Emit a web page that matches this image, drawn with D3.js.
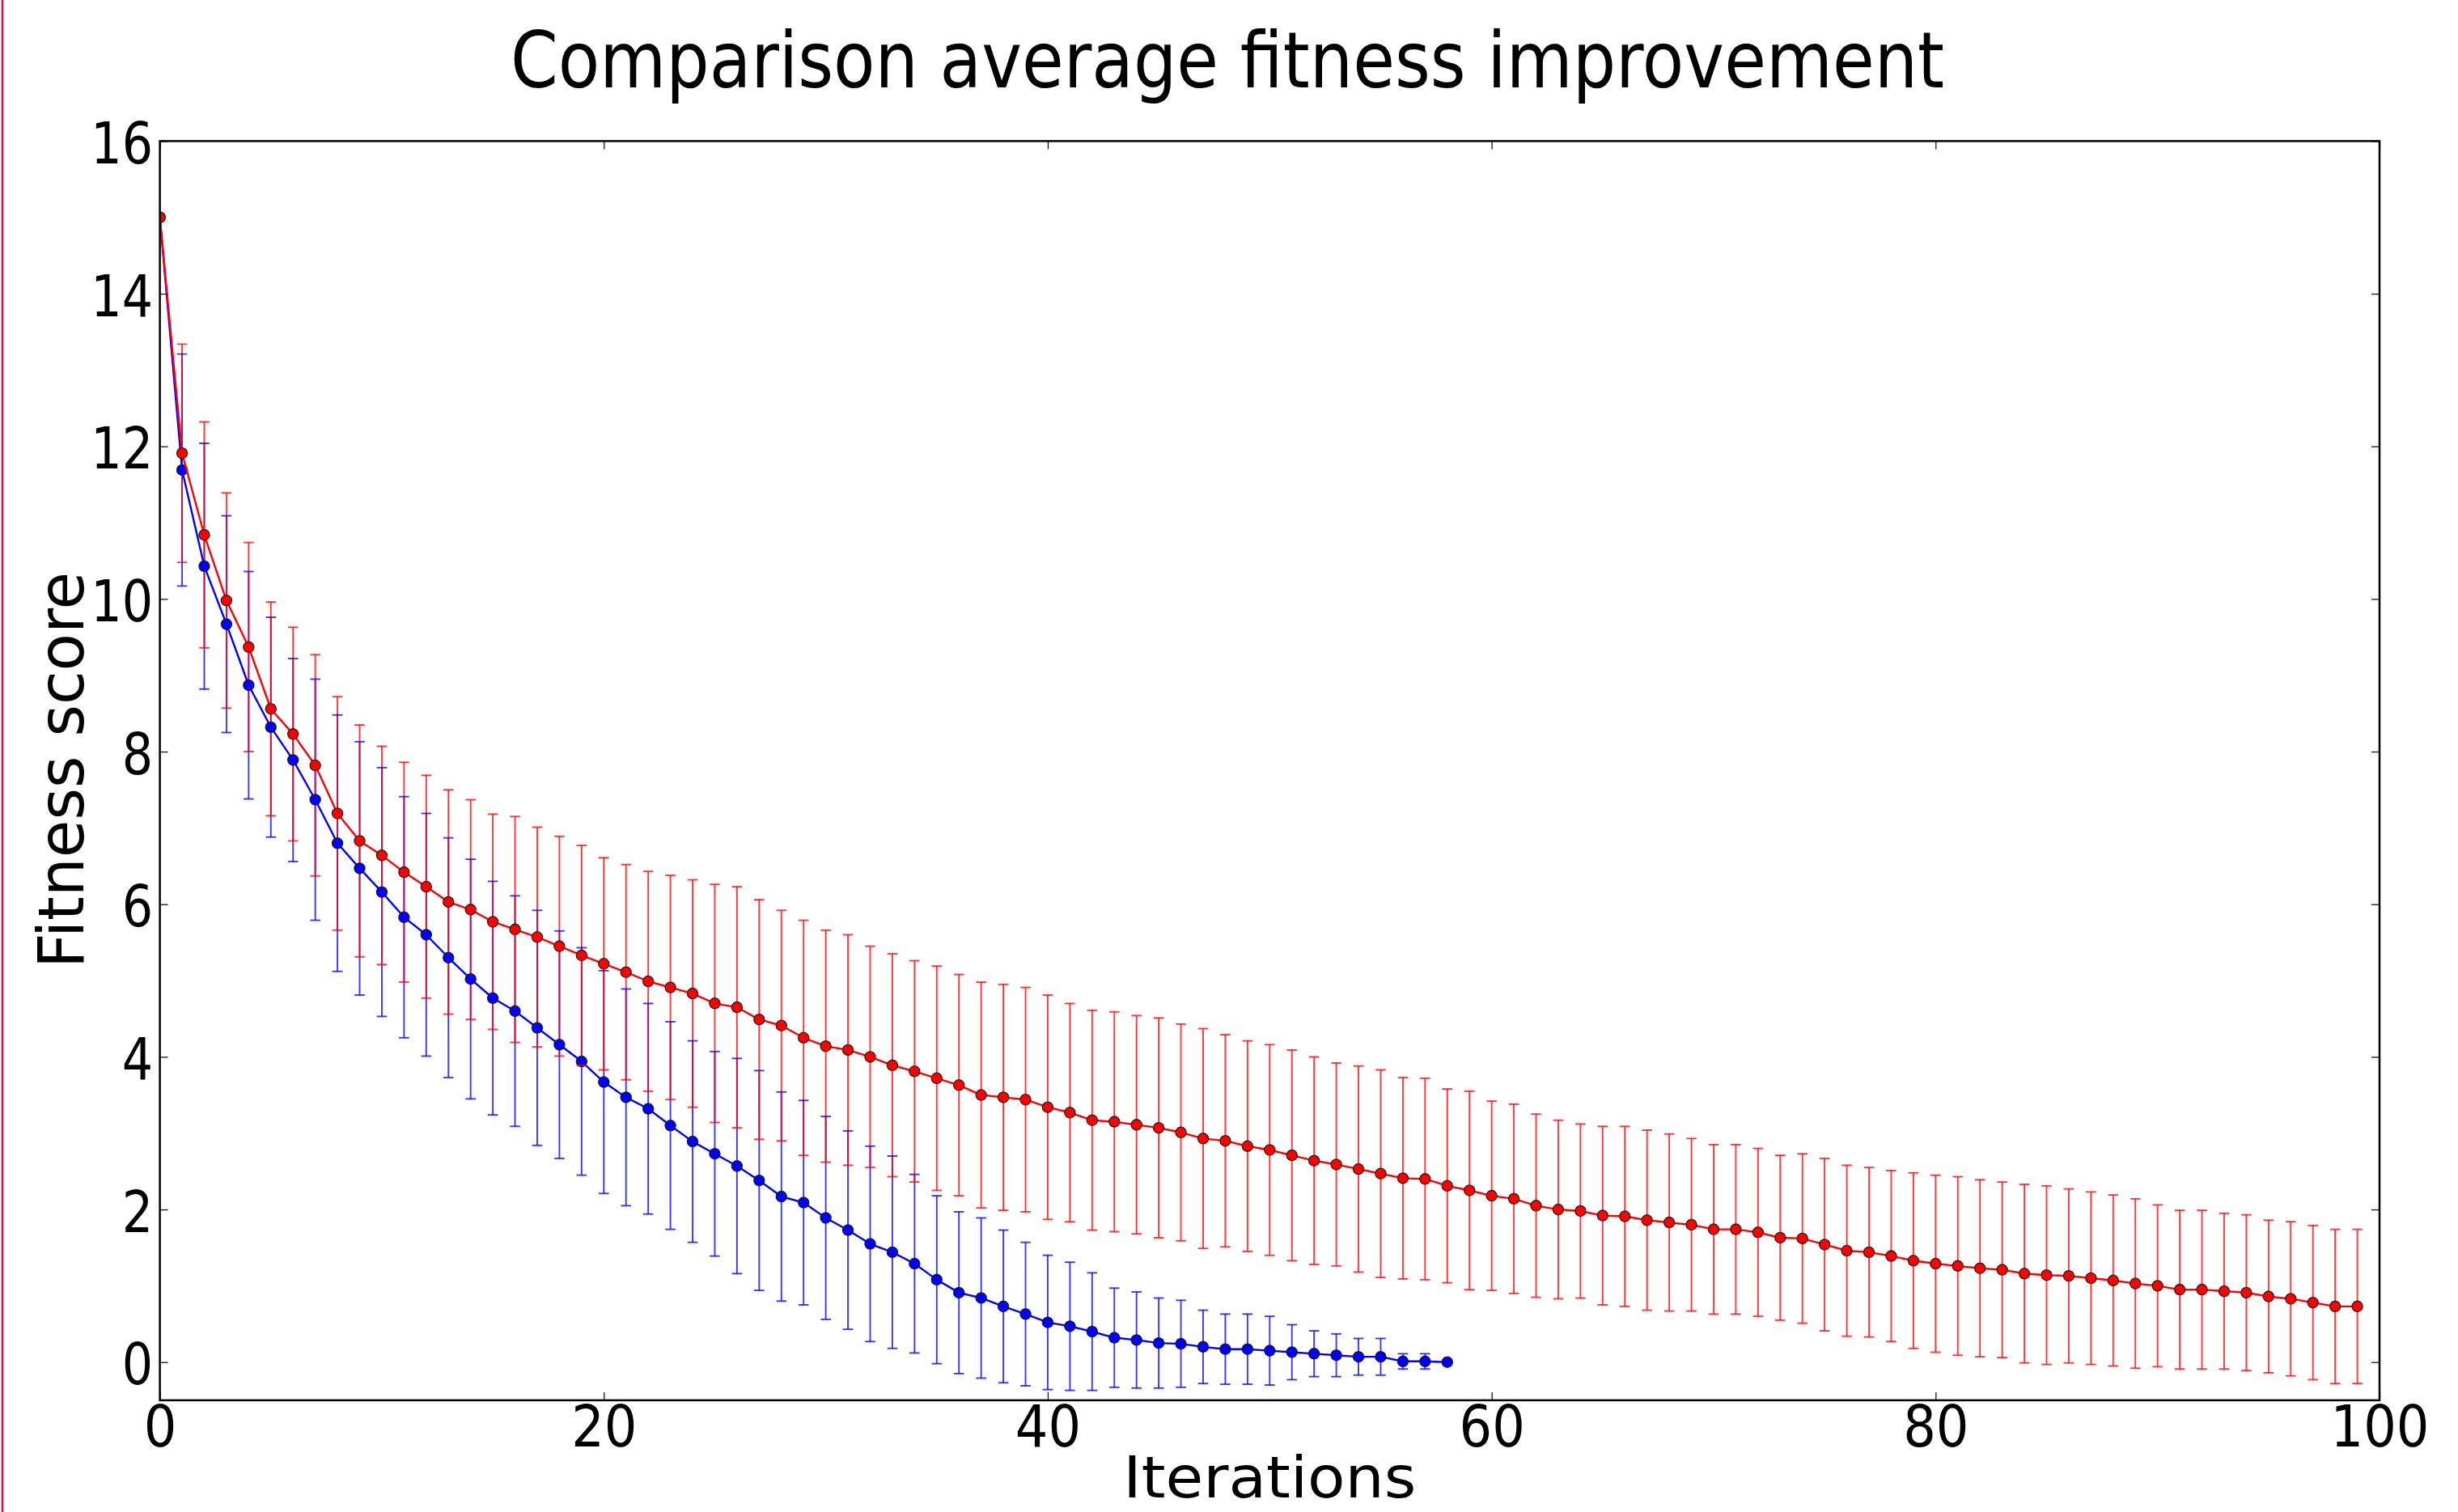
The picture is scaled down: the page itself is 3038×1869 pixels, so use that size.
<!DOCTYPE html>
<html>
<head>
<meta charset="utf-8">
<script src="https://cdn.jsdelivr.net/npm/d3@7"></script>
<style>
  html, body { margin: 0; padding: 0; background: #ffffff; }
  svg { display: block; }
</style>
</head>
<body>
<svg id="chart" width="3038" height="1869"></svg>
<script>
// ---------------- DATA ----------------
const titleText = "Comparison average fitness improvement";
const xLabelText = "Iterations";
const yLabelText = "Fitness score";

const xTicks = [0, 20, 40, 60, 80, 100];
const yTicks = [0, 2, 4, 6, 8, 10, 12, 14, 16];

// red series: iterations 0..99
const redMean = [
  15.0, 11.91, 10.84, 9.98, 9.37, 8.56, 8.23, 7.82, 7.19, 6.83,
  6.64, 6.42, 6.23, 6.03, 5.93, 5.77, 5.67, 5.57, 5.45, 5.33,
  5.22, 5.11, 4.99, 4.91, 4.83, 4.70, 4.65, 4.49, 4.41, 4.25,
  4.14, 4.09, 4.00, 3.89, 3.81, 3.72, 3.63, 3.50, 3.47, 3.44,
  3.34, 3.27, 3.17, 3.15, 3.11, 3.07, 3.01, 2.93, 2.90, 2.83,
  2.78, 2.71, 2.64, 2.59, 2.53, 2.47, 2.41, 2.40, 2.31, 2.25,
  2.18, 2.14, 2.05, 2.00, 1.98, 1.92, 1.91, 1.86, 1.83, 1.80,
  1.74, 1.74, 1.70, 1.63, 1.62, 1.54, 1.46, 1.44, 1.39, 1.33,
  1.29, 1.26, 1.23, 1.21, 1.16, 1.14, 1.13, 1.10, 1.07, 1.03,
  1.00, 0.95, 0.95, 0.93, 0.91, 0.86, 0.83, 0.78, 0.73, 0.73
];
const redErr = [
  0.00, 1.43, 1.48, 1.41, 1.37, 1.40, 1.40, 1.45, 1.53, 1.52,
  1.43, 1.44, 1.46, 1.47, 1.44, 1.41, 1.48, 1.44, 1.44, 1.44,
  1.39, 1.41, 1.44, 1.47, 1.49, 1.56, 1.58, 1.57, 1.51, 1.54,
  1.52, 1.51, 1.45, 1.46, 1.45, 1.47, 1.45, 1.48, 1.48, 1.47,
  1.47, 1.43, 1.44, 1.44, 1.43, 1.44, 1.42, 1.44, 1.39, 1.38,
  1.38, 1.38, 1.36, 1.33, 1.35, 1.36, 1.32, 1.32, 1.27, 1.30,
  1.24, 1.24, 1.20, 1.17, 1.14, 1.17, 1.18, 1.18, 1.16, 1.13,
  1.11, 1.11, 1.10, 1.08, 1.11, 1.13, 1.12, 1.11, 1.12, 1.15,
  1.16, 1.17, 1.16, 1.15, 1.17, 1.17, 1.14, 1.13, 1.12, 1.11,
  1.06, 1.04, 1.04, 1.02, 1.02, 1.00, 1.01, 1.01, 1.01, 1.01
];

// blue series: iterations 0..58
const blueMean = [
  15.0, 11.69, 10.43, 9.67, 8.87, 8.32, 7.89, 7.37, 6.80, 6.47,
  6.16, 5.83, 5.60, 5.30, 5.02, 4.77, 4.60, 4.38, 4.16, 3.94,
  3.67, 3.47, 3.32, 3.10, 2.89, 2.73, 2.57, 2.38, 2.17, 2.09,
  1.89, 1.73, 1.55, 1.44, 1.29, 1.08, 0.91, 0.84, 0.73, 0.63,
  0.52, 0.47, 0.40, 0.32, 0.29, 0.25, 0.24, 0.20, 0.17, 0.17,
  0.15, 0.13, 0.11, 0.09, 0.07, 0.07, 0.01, 0.01, 0.00
];
const blueErr = [
  0.00, 1.52, 1.61, 1.42, 1.49, 1.44, 1.33, 1.58, 1.68, 1.66,
  1.63, 1.58, 1.59, 1.57, 1.57, 1.53, 1.51, 1.54, 1.49, 1.49,
  1.46, 1.42, 1.38, 1.36, 1.32, 1.34, 1.41, 1.44, 1.37, 1.34,
  1.33, 1.30, 1.28, 1.26, 1.17, 1.10, 1.06, 1.05, 1.00, 0.94,
  0.88, 0.84, 0.77, 0.65, 0.63, 0.59, 0.57, 0.48, 0.46, 0.46,
  0.45, 0.36, 0.30, 0.28, 0.24, 0.24, 0.10, 0.10, 0.00
];

// ---------------- LAYOUT ----------------
const svg = d3.select("#chart");
const plotL = 197.6, plotR = 2941, plotT = 174.4, plotB = 1730.9;

const x = d3.scaleLinear().domain([0, 100]).range([plotL, plotR]);
const y = d3.scaleLinear().domain([-0.5, 16]).range([plotB, plotT]);

svg.append("rect").attr("x", 0).attr("y", 0).attr("width", 3038).attr("height", 1869).attr("fill", "#ffffff");

// thin magenta edge line at far left of the picture
svg.append("line")
  .attr("x1", 3).attr("x2", 3).attr("y1", 0).attr("y2", 1869)
  .attr("stroke", "#d01050").attr("stroke-width", 2.6);

svg.append("defs").append("clipPath").attr("id", "clip")
  .append("rect")
  .attr("x", plotL).attr("y", plotT)
  .attr("width", plotR - plotL).attr("height", plotB - plotT);

const plot = svg.append("g").attr("clip-path", "url(#clip)");

const redData = redMean.map((m, i) => ({ i, m, e: redErr[i] }));
const blueData = blueMean.map((m, i) => ({ i, m, e: blueErr[i] }));

const series = [
  { data: blueData, color: "#0000ff", cls: "blue" },
  { data: redData, color: "#ff0000", cls: "red" }
];

const barAlpha = 0.78;
const capHalf = 6.3;

// vertical error bars (all series first, like matplotlib collections)
series.forEach(s => {
  plot.append("g").selectAll("line")
    .data(s.data.filter(d => d.e > 0))
    .join("line")
    .attr("x1", d => x(d.i)).attr("x2", d => x(d.i))
    .attr("y1", d => y(d.m - d.e)).attr("y2", d => y(d.m + d.e))
    .attr("stroke", s.color).attr("stroke-opacity", barAlpha)
    .attr("stroke-width", 1.9);
});

const line = d3.line().x(d => x(d.i)).y(d => y(d.m));

series.forEach(s => {
  const g = plot.append("g");
  g.append("path").datum(s.data)
    .attr("d", line)
    .attr("fill", "none")
    .attr("stroke", s.color)
    .attr("stroke-width", 2.4)
    .attr("stroke-linejoin", "round");
  g.append("g").selectAll("circle")
    .data(s.data)
    .join("circle")
    .attr("cx", d => x(d.i)).attr("cy", d => y(d.m))
    .attr("r", 6.6)
    .attr("fill", s.color)
    .attr("stroke", "#111")
    .attr("stroke-opacity", 0.85)
    .attr("stroke-width", 1.3);
  const capData = [];
  s.data.filter(d => d.e > 0).forEach(d => {
    capData.push({ i: d.i, v: d.m + d.e });
    capData.push({ i: d.i, v: d.m - d.e });
  });
  g.append("g").selectAll("line")
    .data(capData)
    .join("line")
    .attr("x1", d => x(d.i) - capHalf).attr("x2", d => x(d.i) + capHalf)
    .attr("y1", d => y(d.v)).attr("y2", d => y(d.v))
    .attr("stroke", s.color).attr("stroke-opacity", barAlpha)
    .attr("stroke-width", 1.9);
});

// ---------------- AXES ----------------
const fontFam = "'DejaVu Sans', 'Liberation Sans', sans-serif";

function styleAxis(g) {
  g.select(".domain").remove();
  g.selectAll(".tick line").attr("stroke", "#000").attr("stroke-width", 1.2);
}

const axL = svg.append("g").attr("transform", `translate(${plotL},0)`)
  .call(d3.axisLeft(y).tickValues(yTicks).tickFormat(d3.format("d"))
    .tickSizeInner(-10).tickSizeOuter(0).tickPadding(10.1));
styleAxis(axL);
axL.selectAll(".tick text")
  .attr("font-family", fontFam).attr("font-size", 71).attr("fill", "#000")
  .attr("dy", "0.38em")
  .attr("transform", "scale(0.85,1)");

const axR = svg.append("g").attr("transform", `translate(${plotR},0)`)
  .call(d3.axisRight(y).tickValues(yTicks).tickFormat("")
    .tickSizeInner(-10).tickSizeOuter(0));
styleAxis(axR);

const axB = svg.append("g").attr("transform", `translate(0,${plotB})`)
  .call(d3.axisBottom(x).tickValues(xTicks).tickFormat(d3.format("d"))
    .tickSizeInner(-10).tickSizeOuter(0).tickPadding(7));
styleAxis(axB);
axB.selectAll(".tick text")
  .attr("font-family", fontFam).attr("font-size", 71).attr("fill", "#000")
  .attr("transform", "scale(0.9,1)");

const axT = svg.append("g").attr("transform", `translate(0,${plotT})`)
  .call(d3.axisTop(x).tickValues(xTicks).tickFormat("")
    .tickSizeInner(-10).tickSizeOuter(0));
styleAxis(axT);

// frame
svg.append("rect")
  .attr("x", plotL).attr("y", plotT)
  .attr("width", plotR - plotL).attr("height", plotB - plotT)
  .attr("fill", "none").attr("stroke", "#000").attr("stroke-width", 2.5);

// ---------------- TEXT ----------------
svg.append("text")
  .attr("x", 631).attr("y", 108)
  .attr("font-family", fontFam).attr("font-size", 96)
  .attr("textLength", 1772).attr("lengthAdjust", "spacingAndGlyphs")
  .attr("fill", "#000")
  .text(titleText);

svg.append("text")
  .attr("x", (plotL + plotR) / 2).attr("y", 1851)
  .attr("text-anchor", "middle")
  .attr("font-family", fontFam).attr("font-size", 72)
  .attr("textLength", 362).attr("lengthAdjust", "spacingAndGlyphs")
  .attr("fill", "#000")
  .text(xLabelText);

svg.append("text")
  .attr("transform", "translate(103,952) rotate(-90)")
  .attr("text-anchor", "middle")
  .attr("font-family", fontFam).attr("font-size", 78)
  .attr("textLength", 490).attr("lengthAdjust", "spacingAndGlyphs")
  .attr("fill", "#000")
  .text(yLabelText);
</script>
</body>
</html>
